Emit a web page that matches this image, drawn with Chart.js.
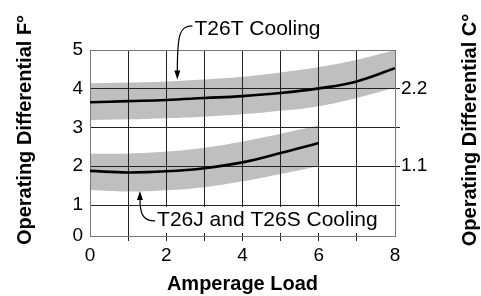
<!DOCTYPE html>
<html>
<head>
<meta charset="utf-8">
<script src="https://cdn.jsdelivr.net/npm/chart.js@4/dist/chart.umd.min.js"></script>
<style>
  html, body { margin: 0; padding: 0; background: #fff; }
  #wrap { width: 481px; height: 296px; position: relative; }
</style>
</head>
<body>
<div id="wrap"><canvas id="chart"></canvas></div>
<script>
// Chart data
const amps = [0, 1, 2, 3, 4, 5, 6, 7, 8];
const t26tMid  = [3.65, 3.68, 3.71, 3.76, 3.81, 3.89, 4.01, 4.19, 4.53];
const t26tHigh = [4.14, 4.16, 4.19, 4.24, 4.31, 4.42, 4.56, 4.75, 5.0];
const t26tLow  = [3.19, 3.21, 3.24, 3.28, 3.34, 3.43, 3.55, 3.76, 4.03];
const ampsJS = [0, 1, 2, 3, 4, 5, 6];
const t26jMid  = [1.88, 1.84, 1.87, 1.95, 2.10, 2.34, 2.60];
const t26jHigh = [2.32, 2.33, 2.38, 2.48, 2.64, 2.84, 3.05];
const t26jLow  = [1.39, 1.35, 1.38, 1.46, 1.61, 1.80, 2.00];

// Axis ticks
const xTickValues = [0, 1, 2, 3, 4, 5, 6, 7, 8];
const xTickLabels = ['0', '', '2', '', '4', '', '6', '', '8'];
const yTickValues = [0.2, 1, 2, 3, 4, 5];
const yTickLabels = ['0', '1', '2', '3', '4', '5'];
const cTickValues = [1, 2, 3, 4];
const cTickLabels = ['', '1.1', '', '2.2'];

// Titles and callouts
const yTitleF = 'Operating Differential F°';
const yTitleC = 'Operating Differential C°';
const xTitle = 'Amperage Load';
const callouts = [
    { text: 'T26T Cooling', x: 2.74, y: 5.57, tipX: 2.29, tipY: 4.24, box: false },
    { text: 'T26J and T26S Cooling', x: 1.76, y: 0.64, tipX: 1.31, tipY: 1.36, box: true }
];

const FONT = "'Liberation Sans', Arial, sans-serif";
const GRID = '#222';
const EDGE = '#777';
const BAND = '#bfbfbf';

const pts = (xs, ys) => xs.map((x, i) => ({ x: x, y: ys[i] }));

const band = (data, fill) => ({
    data: data,
    fill: fill,
    backgroundColor: BAND,
    borderWidth: 0,
    borderColor: 'rgba(0,0,0,0)',
    pointRadius: 0,
    tension: 0.4
});
const curve = (data) => ({
    data: data,
    fill: false,
    borderColor: '#000',
    borderWidth: 2.6,
    pointRadius: 0,
    tension: 0.4
});

// Vertical titles and callouts
const extras = {
    id: 'extras',
    afterDraw(chart) {
        const ctx = chart.ctx;
        const xs = chart.scales.x, ys = chart.scales.y;
        ctx.save();
        ctx.fillStyle = '#000';
        ctx.font = 'bold 20px ' + FONT;
        ctx.textAlign = 'center';
        ctx.textBaseline = 'middle';
        [[25, yTitleF], [chart.width - 11, yTitleC]].forEach(([tx, txt]) => {
            ctx.save();
            ctx.translate(tx, 130);
            ctx.rotate(-Math.PI / 2);
            ctx.fillText(txt, 0, 0);
            ctx.restore();
        });

        ctx.font = '21px ' + FONT;
        ctx.textAlign = 'left';
        callouts.forEach(c => {
            const px = xs.getPixelForValue(c.x);
            const py = ys.getPixelForValue(c.y);
            const w = ctx.measureText(c.text).width;
            if (c.box) {
                ctx.fillStyle = '#fff';
                ctx.fillRect(px - 9, py - 12, w + 22, 26);
            }
            ctx.fillStyle = '#000';
            ctx.fillText(c.text, px, py + 1);

            // curved leader with arrow head
            const tx = xs.getPixelForValue(c.tipX);
            const ty = ys.getPixelForValue(c.tipY);
            const dir = ty < py ? -1 : 1;
            const sx = px - 2, sy = py - dir * 2;
            const ey = ty - dir * 7;
            ctx.strokeStyle = '#000';
            ctx.lineWidth = 1.2;
            ctx.beginPath();
            ctx.moveTo(sx, sy);
            ctx.bezierCurveTo(sx - 13, sy, tx, sy + dir * 8, tx, ey);
            ctx.stroke();
            ctx.beginPath();
            ctx.moveTo(tx, ty);
            ctx.lineTo(tx - 3, ty - dir * 9);
            ctx.lineTo(tx + 3, ty - dir * 9);
            ctx.closePath();
            ctx.fill();
        });
        ctx.restore();
    }
};

document.addEventListener('DOMContentLoaded', () => {
    const ctx = document.getElementById('chart');
    new Chart(ctx, {
        type: 'line',
        data: {
            datasets: [
                band(pts(amps, t26tHigh), '+1'),
                band(pts(amps, t26tLow), false),
                band(pts(ampsJS, t26jHigh), '+1'),
                band(pts(ampsJS, t26jLow), false),
                curve(pts(amps, t26tMid)),
                curve(pts(ampsJS, t26jMid))
            ]
        },
        options: {
            responsive: true,
            maintainAspectRatio: false,
            animation: false,
            layout: { padding: { top: 50, left: 0, right: 0, bottom: 0 } },
            plugins: {
                legend: { display: false },
                tooltip: { enabled: false },
                filler: { drawTime: 'beforeDraw' }
            },
            scales: {
                x: {
                    type: 'linear',
                    min: 0,
                    max: 8,
                    afterBuildTicks: axis => { axis.ticks = xTickValues.map(v => ({ value: v })); },
                    afterFit: axis => { axis.height = 60; },
                    ticks: {
                        autoSkip: false,
                        maxRotation: 0,
                        padding: 3,
                        color: '#000',
                        font: { family: FONT, size: 19 },
                        callback: (v, i) => xTickLabels[i]
                    },
                    grid: {
                        color: c => (c.tick && (c.tick.value === 0 || c.tick.value === 8)) ? EDGE : GRID,
                        tickColor: c => (c.tick && (c.tick.value === 0 || c.tick.value === 8)) ? 'rgba(0,0,0,0)' : GRID,
                        tickLength: 5,
                        lineWidth: 1
                    },
                    border: { color: EDGE, width: 1 },
                    title: {
                        display: true,
                        text: xTitle,
                        color: '#000',
                        font: { family: FONT, size: 20, weight: 'bold' },
                        padding: { top: 0, bottom: 0 }
                    }
                },
                y: {
                    type: 'linear',
                    position: 'left',
                    min: 0.2,
                    max: 5,
                    afterBuildTicks: axis => { axis.ticks = yTickValues.map(v => ({ value: v })); },
                    afterFit: axis => { axis.width = 90; },
                    ticks: {
                        padding: 7,
                        color: '#000',
                        font: { family: FONT, size: 19 },
                        callback: (v, i) => yTickLabels[i]
                    },
                    grid: {
                        drawTicks: false,
                        color: c => (c.tick && (c.tick.value === 5 || c.tick.value === 0.2)) ? EDGE : GRID,
                        lineWidth: 1
                    },
                    border: { color: EDGE, width: 1 }
                },
                c: {
                    type: 'linear',
                    position: 'right',
                    min: 0.2,
                    max: 5,
                    afterBuildTicks: axis => { axis.ticks = cTickValues.map(v => ({ value: v })); },
                    afterFit: axis => { axis.width = 86; },
                    ticks: {
                        padding: 1,
                        color: '#000',
                        font: { family: FONT, size: 19 },
                        callback: (v, i) => cTickLabels[i]
                    },
                    grid: {
                        drawOnChartArea: false,
                        tickLength: 5,
                        tickColor: GRID,
                        color: GRID
                    },
                    border: { color: EDGE, width: 1 }
                }
            }
        },
        plugins: [extras]
    });
});
</script>
</body>
</html>
